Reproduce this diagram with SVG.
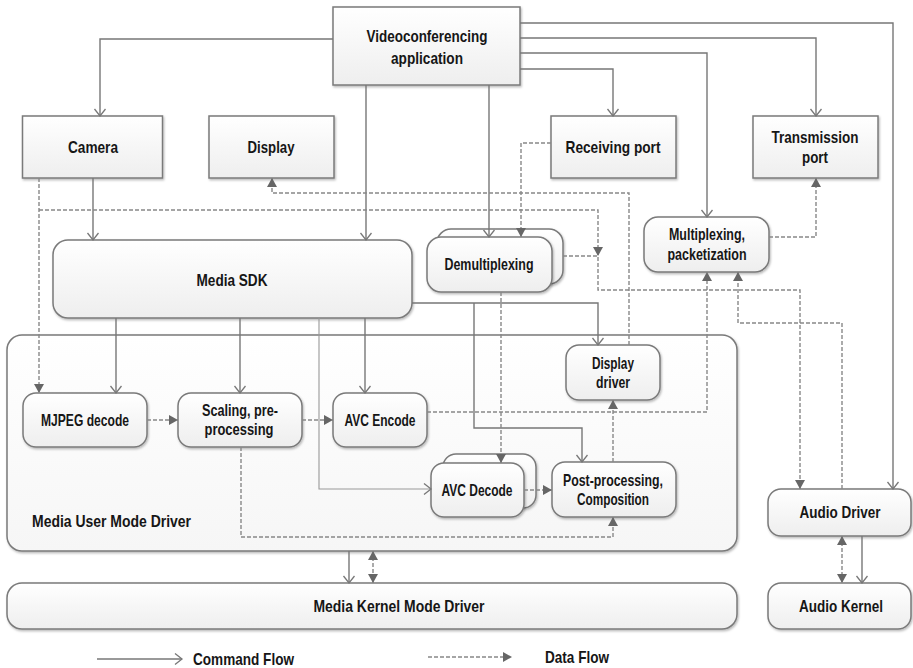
<svg xmlns="http://www.w3.org/2000/svg" width="913" height="668" viewBox="0 0 913 668">
<style>
  .box { fill: url(#g); stroke: #7a7a7a; stroke-width: 1.5; filter: url(#sh); }
  .cont { fill: url(#g2); stroke: #7a7a7a; stroke-width: 1.5; filter: url(#sh); }
  .t { font-family: "Liberation Sans", Arial, sans-serif; font-weight: bold; font-size: 17px; fill: #161616; text-anchor: middle; dominant-baseline: central; }
  .s { text-anchor: start; }
  .cmd { fill: none; stroke: #777; stroke-width: 1.4; marker-end: url(#ao); }
  .dat { fill: none; stroke: #888; stroke-width: 1.4; stroke-dasharray: 4 2; marker-end: url(#af); }
</style>
<defs>
  <linearGradient id="g" x1="0" y1="0" x2="0" y2="1">
    <stop offset="0" stop-color="#ffffff"/>
    <stop offset="1" stop-color="#eeeeee"/>
  </linearGradient>
  <linearGradient id="g2" x1="0" y1="0" x2="0" y2="1">
    <stop offset="0" stop-color="#ffffff"/>
    <stop offset="1" stop-color="#f6f6f6"/>
  </linearGradient>
  <filter id="sh" x="-5%" y="-5%" width="110%" height="115%">
    <feDropShadow dx="1" dy="1.5" stdDeviation="1" flood-color="#000" flood-opacity="0.28"/>
  </filter>
  <marker id="ao" markerUnits="userSpaceOnUse" markerWidth="14" markerHeight="14" refX="9" refY="6" orient="auto">
    <path d="M2,0.5 L9,6 L2,11.5" fill="none" stroke="#777" stroke-width="1.3"/>
  </marker>
  <marker id="af" markerUnits="userSpaceOnUse" markerWidth="14" markerHeight="14" refX="9" refY="5" orient="auto">
    <path d="M0,0 L9,5 L0,10 Z" fill="#666"/>
  </marker>
  <marker id="as" markerUnits="userSpaceOnUse" markerWidth="14" markerHeight="14" refX="0" refY="5" orient="auto">
    <path d="M9,0 L0,5 L9,10 Z" fill="#666"/>
  </marker>
</defs>

<g id="user-mode-driver">
  <rect class="cont" x="7" y="335" width="730" height="216" rx="15"/>
  <text class="t s" x="32" y="521" textLength="159" lengthAdjust="spacingAndGlyphs">Media User Mode Driver</text>
</g>

<g id="videoconf-app">
  <rect class="box" x="333" y="7" width="187" height="78"/>
  <text class="t" x="427" y="36" textLength="121" lengthAdjust="spacingAndGlyphs">Videoconferencing</text>
  <text class="t" x="427" y="58" textLength="72" lengthAdjust="spacingAndGlyphs">application</text>
</g>
<g id="camera">
  <rect class="box" x="22.5" y="116" width="140" height="62"/>
  <text class="t" x="93" y="147" textLength="50" lengthAdjust="spacingAndGlyphs">Camera</text>
</g>
<g id="display">
  <rect class="box" x="209" y="116" width="125" height="62"/>
  <text class="t" x="271" y="147" textLength="47" lengthAdjust="spacingAndGlyphs">Display</text>
</g>
<g id="receiving-port">
  <rect class="box" x="551" y="116" width="125" height="62"/>
  <text class="t" x="613" y="147" textLength="95" lengthAdjust="spacingAndGlyphs">Receiving port</text>
</g>
<g id="transmission-port">
  <rect class="box" x="753" y="116" width="125" height="62"/>
  <text class="t" x="815" y="137" textLength="87" lengthAdjust="spacingAndGlyphs">Transmission</text>
  <text class="t" x="815" y="157" textLength="26" lengthAdjust="spacingAndGlyphs">port</text>
</g>
<g id="media-sdk">
  <rect class="box" x="53" y="240" width="359" height="78" rx="15"/>
  <text class="t" x="232" y="280" textLength="71" lengthAdjust="spacingAndGlyphs">Media SDK</text>
</g>
<g id="demultiplexing">
  <rect class="box" x="437" y="229" width="126" height="55" rx="14"/>
  <rect class="box" x="427" y="237" width="125" height="55" rx="14"/>
  <text class="t" x="489" y="264" textLength="89" lengthAdjust="spacingAndGlyphs">Demultiplexing</text>
</g>
<g id="multiplexing">
  <rect class="box" x="644" y="217" width="125" height="55" rx="14"/>
  <text class="t" x="707" y="234" textLength="76" lengthAdjust="spacingAndGlyphs">Multiplexing,</text>
  <text class="t" x="707" y="254" textLength="79" lengthAdjust="spacingAndGlyphs">packetization</text>
</g>
<g id="display-driver">
  <rect class="box" x="566" y="345" width="94" height="55" rx="13"/>
  <text class="t" x="613" y="363" textLength="42" lengthAdjust="spacingAndGlyphs">Display</text>
  <text class="t" x="613" y="382" textLength="34" lengthAdjust="spacingAndGlyphs">driver</text>
</g>
<g id="mjpeg-decode">
  <rect class="box" x="23" y="393" width="124" height="54" rx="13"/>
  <text class="t" x="85" y="420" textLength="88" lengthAdjust="spacingAndGlyphs">MJPEG decode</text>
</g>
<g id="scaling">
  <rect class="box" x="178" y="393" width="124" height="54" rx="13"/>
  <text class="t" x="240" y="410" textLength="76" lengthAdjust="spacingAndGlyphs">Scaling, pre-</text>
  <text class="t" x="239" y="429" textLength="69" lengthAdjust="spacingAndGlyphs">processing</text>
</g>
<g id="avc-encode">
  <rect class="box" x="333" y="393" width="94" height="54" rx="13"/>
  <text class="t" x="380" y="420" textLength="71" lengthAdjust="spacingAndGlyphs">AVC Encode</text>
</g>
<g id="avc-decode">
  <rect class="box" x="443" y="454" width="93" height="54" rx="13"/>
  <rect class="box" x="431" y="463" width="93" height="54" rx="13"/>
  <text class="t" x="477" y="490" textLength="71" lengthAdjust="spacingAndGlyphs">AVC Decode</text>
</g>
<g id="post-processing">
  <rect class="box" x="552" y="462" width="124" height="55" rx="13"/>
  <text class="t" x="613" y="480" textLength="100" lengthAdjust="spacingAndGlyphs">Post-processing,</text>
  <text class="t" x="613" y="499" textLength="72" lengthAdjust="spacingAndGlyphs">Composition</text>
</g>
<g id="kernel-mode-driver">
  <rect class="box" x="7" y="583" width="730" height="46" rx="15"/>
  <text class="t" x="399" y="606" textLength="171" lengthAdjust="spacingAndGlyphs">Media Kernel Mode Driver</text>
</g>
<g id="audio-driver">
  <rect class="box" x="768" y="489" width="143" height="47" rx="13"/>
  <text class="t" x="840" y="512" textLength="81" lengthAdjust="spacingAndGlyphs">Audio Driver</text>
</g>
<g id="audio-kernel">
  <rect class="box" x="768" y="583" width="143" height="46" rx="13"/>
  <text class="t" x="841" y="606" textLength="84" lengthAdjust="spacingAndGlyphs">Audio Kernel</text>
</g>

<g id="connectors">
  <!-- command flow -->
  <path class="cmd" d="M333,39 H100 V116"/>
  <path class="cmd" d="M366,85 V240"/>
  <path class="cmd" d="M489,85 V237"/>
  <path class="cmd" d="M520,69 H613 V116"/>
  <path class="cmd" d="M520,53 H707 V217"/>
  <path class="cmd" d="M520,38 H816 V116"/>
  <path class="cmd" d="M520,23 H893 V489"/>
  <path class="cmd" d="M93,178 V240"/>
  <path class="cmd" d="M116,318 V393"/>
  <path class="cmd" d="M240,318 V393"/>
  <path class="cmd" d="M365,318 V393"/>
  <path class="cmd" d="M319,318 V489 H431" style="stroke:#999;stroke-width:1.1"/>
  <path class="cmd" d="M412,303 H598 V345"/>
  <path class="cmd" d="M474,303 V428 H582 V462"/>
  <path class="cmd" d="M349,551 V583"/>
  <path class="cmd" d="M862,536 V583"/>
  <!-- data flow -->
  <path class="dat" d="M551,143 H521 V237"/>
  <path class="dat" d="M39,178 V393"/>
  <path class="dat" d="M39,210 H598 V256"/>
  <path class="dat" d="M563,256 H598 V290 H800 V489"/>
  <path class="dat" d="M629,345 V193 H272 V178"/>
  <path class="dat" d="M769,237 H816 V178"/>
  <path class="dat" d="M427,412 H707 V272"/>
  <path class="dat" d="M842,489 V323 H738 V272"/>
  <path class="dat" d="M501,292 V463"/>
  <path class="dat" d="M524,490 H552"/>
  <path class="dat" d="M613,462 V400"/>
  <path class="dat" d="M241,447 V537 H613 V517"/>
  <path class="dat" d="M147,420 H178"/>
  <path class="dat" d="M302,420 H333"/>
  <path class="dat" d="M373,551 V583" style="marker-start:url(#as)"/>
  <path class="dat" d="M842,536 V583" style="marker-start:url(#as)"/>
</g>

<g id="legend">
  <path class="cmd" d="M97,659 H182"/>
  <text class="t s" x="193" y="659" textLength="101" lengthAdjust="spacingAndGlyphs">Command Flow</text>
  <path class="dat" d="M428,657 H512"/>
  <text class="t s" x="545" y="657" textLength="64" lengthAdjust="spacingAndGlyphs">Data Flow</text>
</g>
</svg>
